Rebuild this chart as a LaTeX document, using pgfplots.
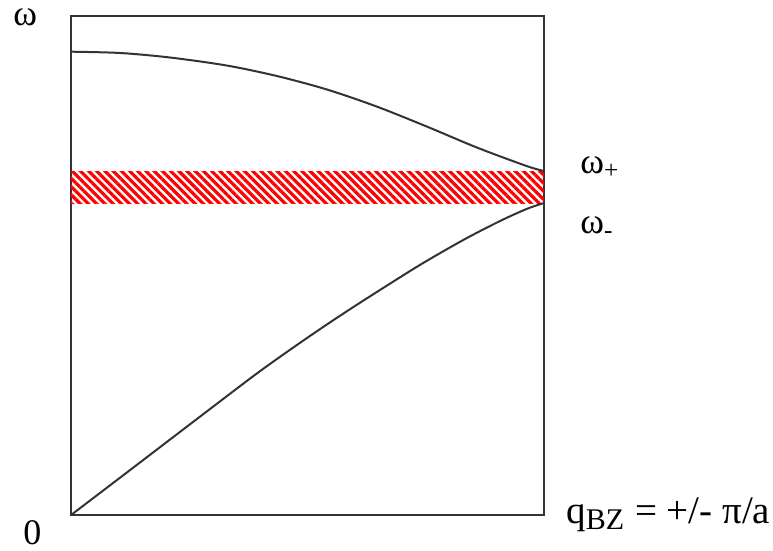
\documentclass[border=0pt]{standalone}
\usepackage{fontspec}
\setmainfont{Liberation Serif}
\usepackage{pgfplots}
\pgfplotsset{compat=1.18}
\usetikzlibrary{patterns.meta}

% curves: x = q/q_BZ, y in pixel rows above the bottom line
\pgfplotstableread{
x      y
0.000  463.3
0.104  462.0
0.209  457.5
0.329  449.5
0.435  439.0
0.541  425.5
0.646  408.5
0.752  388.5
0.858  367.5
0.963  349.0
1.000  344.0
}\optical
\pgfplotstableread{
x      y
0.000  0.0
0.118  42.5
0.280  101.0
0.400  144.0
0.505  179.0
0.597  208.0
0.710  242.0
0.766  258.0
0.837  277.0
0.907  294.0
0.963  306.0
1.000  312.0
}\acoustic

\tikzset{lbl/.style={inner sep=0pt, anchor=base west, font=\fontsize{18}{20}\selectfont}}

\begin{document}
\begin{tikzpicture}
\begin{axis}[
  scale only axis,
  width=236.5pt, height=249.5pt,
  xmin=0, xmax=1, ymin=0, ymax=499,
  xtick=\empty, ytick=\empty,
  axis line style={black!80, line width=1.3pt},
  clip=false,
]
% gap band between omega- and omega+
\addplot[draw=none,
  pattern={Lines[angle=-45, distance=2.9pt, line width=1.6pt]},
  pattern color=red]
  coordinates {(0,312) (1,312) (1,344) (0,344) (0,312)};
\addplot[black!80, line width=1pt, smooth] table {\optical};
\addplot[black!80, line width=1pt, smooth] table {\acoustic};

\node[lbl] at (axis cs:-0.1226,489) {ω};
\node[lbl] at (axis cs:-0.1015,-29) {0};
\node[lbl] at (axis cs:1.0761,342) {ω\textsubscript{+}};
\node[lbl] at (axis cs:1.0761,282) {ω\textsubscript{-}};
\node[lbl, font=\fontsize{19.5}{22}\selectfont] at (axis cs:1.0465,-8)
  {q\textsubscript{\fontsize{15}{16}\selectfont BZ} = +/- π/a};

\coordinate (bbsw) at (axis cs:-0.1501,-35);
\coordinate (bbne) at (axis cs:1.4841,515);
\end{axis}
\pgfresetboundingbox
\path[use as bounding box] (bbsw) rectangle (bbne);
\end{tikzpicture}
\end{document}
